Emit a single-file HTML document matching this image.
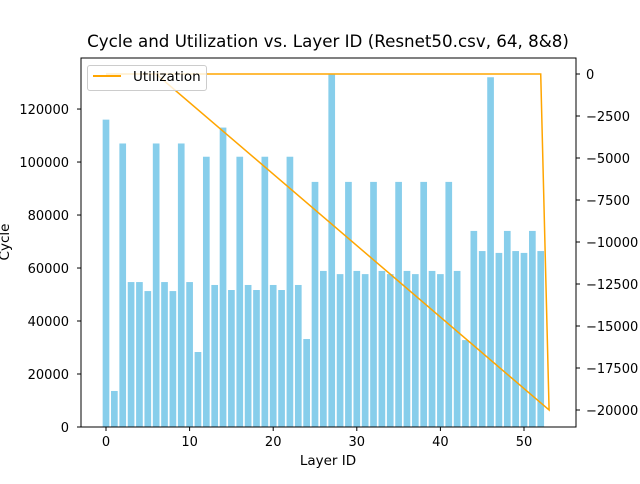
<!DOCTYPE html>
<html><head><meta charset="utf-8"><style>
body{margin:0;background:#fff;font-family:"DejaVu Sans","Liberation Sans",sans-serif}
</style></head><body>
<svg id="c" width="640" height="480" xmlns="http://www.w3.org/2000/svg" style="font-family:'DejaVu Sans',sans-serif"></svg>
<script>
const layers=[...Array(53).keys()];
const cycles=[116000,13600,107000,54700,54700,51300,107000,54700,51300,107000,54700,28300,102000,53600,113000,51700,102000,53600,51700,102000,53600,51700,102000,53600,33200,92500,58900,133000,57700,92500,58900,57700,92500,58900,57700,92500,58900,57700,92500,58900,57700,92500,58900,32800,74000,66400,132000,65700,74000,66400,65700,74000,66400];
const utilX=[0,52,53,6];
const utilY=[0,0,-20000,0];
const xTicks=[0,10,20,30,40,50];
const yTicks=[0,20000,40000,60000,80000,100000,120000];
const y2Ticks=[0,-2500,-5000,-7500,-10000,-12500,-15000,-17500,-20000];
const svg=document.getElementById('c');const NS='http://www.w3.org/2000/svg';
const L=81,R=576,T=58,B=427;
const xs=v=>106+v*8.36;
const ys=v=>B-v/377.4;
const y2=v=>74-v*0.0168;
function el(t,a,p){const e=document.createElementNS(NS,t);for(const k in a)e.setAttribute(k,a[k]);(p||svg).appendChild(e);return e;}
const bars=el('g',{});


layers.forEach((l,i)=>{const r=el('rect',{x:xs(l)-3.34,y:ys(cycles[i]),width:6.68,height:B-ys(cycles[i]),fill:'#87ceeb'},bars);

});
const pts=utilX.map((x,i)=>xs(x)+','+y2(utilY[i])).join(' ');
const ln=el('polyline',{points:pts,fill:'none',stroke:'#ffa500','stroke-width':1.5});


el('rect',{x:L,y:T,width:R-L,height:B-T,fill:'none',stroke:'#000','stroke-width':1});
xTicks.forEach(v=>{el('line',{x1:xs(v),x2:xs(v),y1:B,y2:B+4,stroke:'#000'});const t=el('text',{x:xs(v),y:B+19,'text-anchor':'middle','font-size':13});t.textContent=v;

});
yTicks.forEach(v=>{el('line',{x1:L-4,x2:L,y1:ys(v),y2:ys(v),stroke:'#000'});const t=el('text',{x:L-12,y:ys(v)+5,'text-anchor':'end','font-size':13});t.textContent=v;

});
y2Ticks.forEach(v=>{el('line',{x1:R,x2:R+4,y1:y2(v),y2:y2(v),stroke:'#000'});const t=el('text',{x:R+10,y:y2(v)+5,'font-size':13});t.textContent=v===0?'0':'\u2212'+(-v);

});
</script>
<div style="position:absolute;left:0;width:656px;top:31px;text-align:center;font-size:16.7px">Cycle and Utilization vs. Layer ID (Resnet50.csv, 64, 8&amp;8)</div>
<div style="position:absolute;left:228px;width:200px;top:453px;text-align:center;font-size:13.5px">Layer ID</div>
<div style="position:absolute;left:-20px;top:234px;width:50px;text-align:center;font-size:13.5px;transform:rotate(-90deg)">Cycle</div>
<div style="position:absolute;left:87px;top:65px;width:118px;height:24px;border:1px solid #ccc;border-radius:3px;background:rgba(255,255,255,0.8);font-size:13.5px">
<div style="position:absolute;left:5px;top:9px;width:28px;height:2px;background:#ffa500"></div>
<span style="position:absolute;left:45px;top:3px">Utilization</span></div>
</body></html>
